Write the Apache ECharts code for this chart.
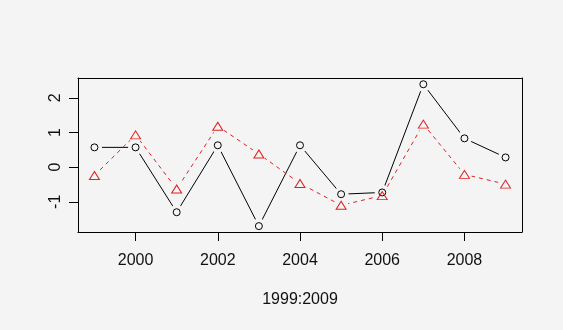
<!DOCTYPE html>
<html><head><meta charset="utf-8">
<script src="https://cdn.jsdelivr.net/npm/echarts@6/dist/echarts.min.js"></script>
<style>html,body{margin:0;padding:0;background:#f4f4f4}#c{width:563px;height:330px}</style>
</head><body><div id="c"></div>
<script>
const years = [1999, 2000, 2001, 2002, 2003, 2004, 2005, 2006, 2007, 2008, 2009];
const seriesBlack = [0.57, 0.57, -1.30, 0.63, -1.70, 0.63, -0.78, -0.73, 2.39, 0.83, 0.28];
const seriesRed = [-0.24, 0.93, -0.63, 1.18, 0.38, -0.47, -1.10, -0.82, 1.24, -0.21, -0.49];
const xTicks = [2000, 2002, 2004, 2006, 2008];
const yTicks = [-1, 0, 1, 2];
const xTitle = '1999:2009';

const BG = '#f4f4f4';
const FONT = 'Liberation Sans, Arial, sans-serif';
const TXT = '#111';
const RED = '#dd2222';
const pairs = arr => years.map((y, i) => [y, arr[i]]);

const chart = echarts.init(document.getElementById('c'), null, {renderer: 'canvas'});
const frameAxis = {show: true, axisLine: {show: true, onZero: false, lineStyle: {color: '#000', width: 1}}, axisTick: {show: false}, axisLabel: {show: false}, splitLine: {show: false}, z: 10};
chart.setOption({
  backgroundColor: BG,
  animation: false,
  grid: {left: 78, right: 41, top: 78, bottom: 98, containLabel: false},
  xAxis: [{
    type: 'value', min: 1998.6, max: 2009.4, position: 'bottom', z: 10,
    axisLine: {show: true, onZero: false, lineStyle: {color: '#000', width: 1}},
    axisTick: {show: true, length: 9, inside: false, customValues: xTicks, lineStyle: {color: '#000'}},
    axisLabel: {show: true, customValues: xTicks, margin: 21, fontSize: 16, fontFamily: FONT, color: TXT, formatter: v => String(v)},
    splitLine: {show: false},
    name: xTitle, nameLocation: 'middle', nameGap: 60,
    nameTextStyle: {fontSize: 16, fontFamily: FONT, color: TXT}
  }, Object.assign({type: 'value', min: 1998.6, max: 2009.4, position: 'top'}, frameAxis)],
  yAxis: [{
    type: 'value', min: -1.87, max: 2.57, position: 'left', z: 10,
    axisLine: {show: true, onZero: false, lineStyle: {color: '#000', width: 1}},
    axisTick: {show: true, length: 9, inside: false, customValues: yTicks, lineStyle: {color: '#000'}},
    axisLabel: {show: true, customValues: yTicks, rotate: 90, margin: 14, fontSize: 16, fontFamily: FONT, color: TXT, formatter: v => String(v)},
    splitLine: {show: false}
  }, Object.assign({type: 'value', min: -1.87, max: 2.57, position: 'right'}, frameAxis)],
  series: [
    {type: 'line', data: pairs(seriesBlack), showSymbol: false, symbol: 'none', z: 2,
     lineStyle: {color: '#000', width: 1}, silent: true},
    {type: 'scatter', data: pairs(seriesBlack), symbol: 'circle', symbolSize: 15, z: 3,
     itemStyle: {color: BG, borderWidth: 0, opacity: 1}, silent: true},
    {type: 'line', data: pairs(seriesRed), showSymbol: false, symbol: 'none', z: 4,
     lineStyle: {color: RED, width: 1, type: [4, 4]}, silent: true},
    {type: 'scatter', data: pairs(seriesRed), symbol: 'circle', symbolSize: 15, z: 5,
     itemStyle: {color: BG, borderWidth: 0, opacity: 1}, silent: true},
    {type: 'scatter', data: pairs(seriesBlack), symbol: 'circle', symbolSize: 7, z: 6,
     itemStyle: {color: 'rgba(0,0,0,0)', borderColor: '#000', borderWidth: 1, opacity: 1}, silent: true},
    {type: 'scatter', data: pairs(seriesRed), symbol: 'triangle', symbolSize: [10, 8], z: 7,
     itemStyle: {color: 'rgba(0,0,0,0)', borderColor: RED, borderWidth: 1, opacity: 1}, silent: true}
  ]
});
</script>
</body></html>
